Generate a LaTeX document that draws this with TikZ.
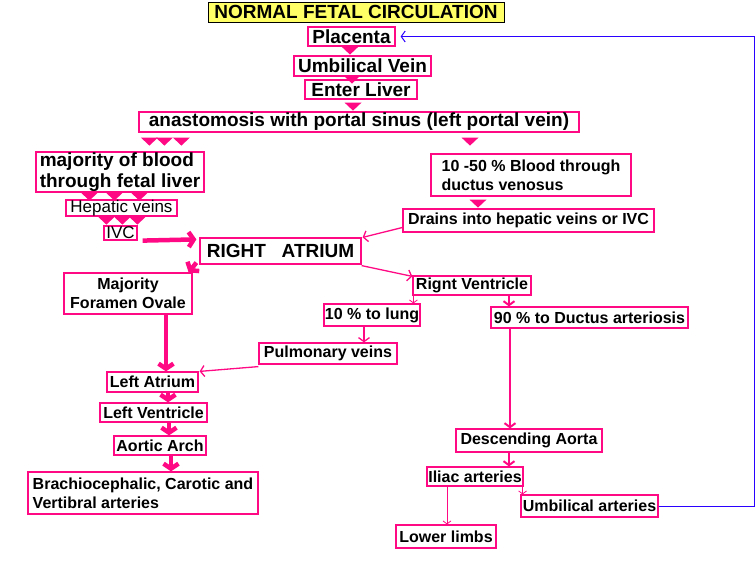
\documentclass[tikz,border=0pt]{standalone}
\usepackage{fontspec}
\setmainfont{Liberation Sans}
\usetikzlibrary{arrows.meta}
\definecolor{flowpink}{HTML}{FF0A84}
\definecolor{loopblue}{HTML}{2A00FF}
\definecolor{titleyellow}{HTML}{FFFF66}
\newcommand{\drop}[1]{\fill[flowpink] #1 ++(-8.5,0) -- ++(17,0) -- ++(-8.5,8) -- cycle;}
\begin{document}
\begin{tikzpicture}[x=1pt,y=-1pt,
    box/.style={draw=flowpink,line width=1.2pt,inner sep=0pt,align=center},
    big/.style={font=\fontsize{19}{21}\selectfont\bfseries},
    small/.style={font=\fontsize{16}{19}\selectfont\bfseries},
    light/.style={font=\fontsize{17}{19}\selectfont},
    fat/.style={flowpink,line width=4.5pt,-{Straight Barb[length=5pt,width=15pt]}},
    mid/.style={flowpink,line width=2pt,-{Straight Barb[length=4pt,width=11pt]}},
    thin/.style={flowpink,line width=1.3pt,-{Straight Barb[length=4pt,width=11pt]}},
    hair/.style={flowpink,line width=0.8pt,-{Straight Barb[length=3pt,width=8pt]}}]
  \useasboundingbox (0,0) rectangle (756,562);
  % top of the chain
  \node[draw=black,line width=1pt,fill=titleyellow,inner sep=0pt,minimum width=296pt,minimum height=20pt,font=\fontsize{19}{20}\selectfont\bfseries] (title) at (356,12) {NORMAL FETAL CIRCULATION};
  \node[box,big,minimum width=87pt,minimum height=19pt] (placenta) at (351.5,36.5) {Placenta};
  \node[box,big,minimum width=137pt,minimum height=20pt] (uvein) at (362.5,66) {Umbilical Vein};
  \node[box,big,minimum width=112pt,minimum height=19pt] (liver) at (361,89.5) {Enter Liver};
  \node[box,big,minimum width=440pt,minimum height=20pt] (anast) at (359,122) {anastomosis with portal sinus (left portal vein)};
  % left branch
  \node[box,big,align=left,minimum width=168pt,minimum height=40pt] (major) at (120,172) {majority of blood\\through fetal liver};
  \node[box,light,minimum width=111pt,minimum height=16pt] (hepatic) at (121.5,208) {Hepatic veins};
  \node[box,light,minimum width=33pt,minimum height=14pt] (ivc) at (120.5,233) {IVC};
  % right branch
  \node[box,small,align=left,minimum width=200pt,minimum height=42pt] (ductus) at (531,175) {10 -50 \% Blood through\\ductus venosus};
  \node[box,small,minimum width=251pt,minimum height=23pt] (drains) at (528.5,220.5) {Drains into hepatic veins or IVC};
  % heart
  \node[box,big,minimum width=161pt,minimum height=26pt] (ra) at (280.5,251) {RIGHT\ \ \ ATRIUM};
  \node[box,small,minimum width=128pt,minimum height=41pt] (fo) at (128,293.5) {Majority\\Foramen Ovale};
  \node[box,small,minimum width=118pt,minimum height=19pt] (rv) at (472,285.5) {Rignt Ventricle};
  \node[box,small,minimum width=96pt,minimum height=22pt] (lung) at (372,315) {10 \% to lung};
  \node[box,small,minimum width=197pt,minimum height=21pt] (ninety) at (589.5,317.5) {90 \% to Ductus arteriosis};
  \node[box,small,minimum width=138pt,minimum height=21pt] (pulm) at (328,353.5) {Pulmonary veins};
  \node[box,small,minimum width=91pt,minimum height=20pt] (la) at (152.5,382) {Left Atrium};
  \node[box,small,minimum width=107pt,minimum height=19pt] (lv) at (153.5,412.5) {Left Ventricle};
  \node[box,small,minimum width=92pt,minimum height=19pt] (aarch) at (160,445.5) {Aortic Arch};
  \node[box,small,align=left,minimum width=230pt,minimum height=42pt] (brach) at (143,493) {Brachiocephalic, Carotic and\\Vertibral arteries};
  % lower body
  \node[box,small,minimum width=146pt,minimum height=23pt] (da) at (529,440.5) {Descending Aorta};
  \node[box,small,minimum width=96pt,minimum height=19pt] (iliac) at (475,476.5) {Iliac arteries};
  \node[box,small,minimum width=100pt,minimum height=23pt] (limbs) at (446,536.5) {Lower limbs};
  \node[box,small,minimum width=137pt,minimum height=22pt] (umba) at (589.5,506) {Umbilical arteries};
  \coordinate (corner) at (754,36.5);
  % triangles
  \drop{([xshift=-1.5pt]placenta.south)}
  \drop{([xshift=-10.5pt,yshift=1pt]uvein.south)}
  \drop{([xshift=-8pt,yshift=-3pt]liver.south)}
  \drop{([xshift=11pt,yshift=-5pt]anast.south west)}
  \drop{([xshift=26pt,yshift=-5pt]anast.south west)}
  \drop{([xshift=43pt,yshift=-5pt]anast.south west)}
  \drop{([xshift=111pt,yshift=-5pt]anast.south)}
  \drop{([xshift=54pt]major.south west)}
  \drop{([xshift=79pt]major.south west)}
  \drop{([xshift=104pt]major.south west)}
  \drop{([xshift=41pt]hepatic.south west)}
  \drop{([xshift=57pt]hepatic.south west)}
  \drop{([xshift=72pt]hepatic.south west)}
  \drop{([xshift=-53pt,yshift=-3pt]ductus.south)}
  % connectors
  \draw[fat] ([xshift=5pt]ivc.south east) -- ([xshift=-3pt,yshift=-2pt]ra.north west);
  \draw[fat] ([xshift=-3pt,yshift=2pt]ra.south west) -- ([xshift=-4pt]fo.north east);
  \draw[thin] ([yshift=-7pt]drains.west) -- ([xshift=1pt]ra.north east);
  \draw[thin] ([yshift=-1pt]ra.south east) -- ([yshift=-1pt]rv.north west);
  \draw[hair] ([xshift=1pt]rv.south west) -- ([xshift=1pt]rv.south west |- lung.north);
  \draw[mid] ([xshift=37pt]rv.south) -- ([xshift=37pt]rv.south |- ninety.north);
  \draw[thin] ([xshift=-8pt]lung.south) -- ([xshift=-8pt]lung.south |- pulm.north);
  \draw[thin] ([yshift=-2pt]pulm.south west) -- ([xshift=1pt]la.north east);
  \draw[fat] ([xshift=38pt]fo.south) -- ([xshift=38pt]fo.south |- la.north);
  \draw[fat] ([xshift=15.5pt]la.south) -- ([xshift=15.5pt]la.south |- lv.north);
  \draw[fat] ([xshift=15.5pt]lv.south) -- ([xshift=15.5pt]lv.south |- aarch.north);
  \draw[fat] ([xshift=11pt]aarch.south) -- ([xshift=11pt]aarch.south |- brach.north);
  \draw[mid] ([xshift=-79.5pt]ninety.south) -- ([xshift=-79.5pt]ninety.south |- da.north);
  \draw[mid] ([xshift=-20pt]da.south) -- ([xshift=-20pt]da.south |- iliac.north);
  \draw[hair] ([xshift=-28pt]iliac.south) -- ([xshift=-28pt]iliac.south |- limbs.north);
  \draw[hair] ([xshift=-1pt]iliac.south east) -- ([xshift=-1pt]iliac.south east |- umba.north);
  \draw[loopblue,line width=1pt,-{Straight Barb[length=4pt,width=11pt]}] (umba.east) -| (corner) -- ([xshift=5pt]placenta.east);
\end{tikzpicture}
\end{document}
